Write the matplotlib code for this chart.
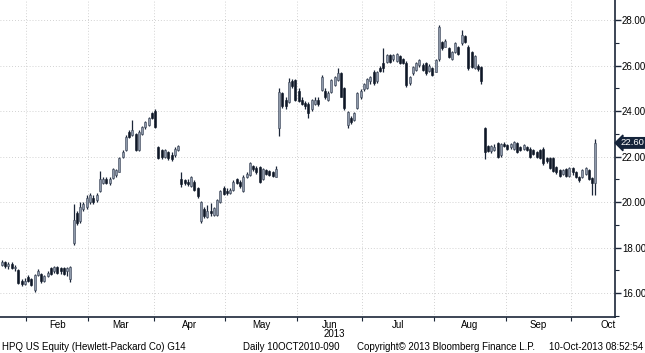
import matplotlib
matplotlib.use('Agg')
import numpy as np
import pandas as pd
from matplotlib import pyplot as plt
from matplotlib import transforms

plt.rcParams['font.family'] = ['Liberation Sans', 'DejaVu Sans']

# trading days shown on the chart (NYSE holidays removed)
holidays = ['2013-02-18', '2013-03-29', '2013-05-27', '2013-07-04', '2013-09-02']
dates = pd.bdate_range('2013-01-22', '2013-10-10')
dates = dates[~dates.isin(pd.to_datetime(holidays))]

opens = [17.25, 17.35, 17.20, 17.30, 17.10, 17.00, 16.55, 16.40, 16.70, 16.60,
         16.15, 16.80, 16.85, 16.55, 16.75, 17.10, 16.95, 17.15, 17.10, 17.10,
         16.95, 16.60, 18.20, 19.50, 19.15, 19.70, 19.80, 20.00, 20.20, 20.10,
         20.50, 20.85, 21.00, 20.85, 21.06, 21.20, 21.34, 22.00, 22.29, 23.10,
         22.95, 23.00, 22.30, 23.00, 23.30, 23.40, 23.90, 24.00, 22.40, 22.30,
         22.00, 22.20, 22.05, 22.05, 22.30, 21.00, 20.95, 20.90, 20.70, 20.90,
         20.60, 19.15, 19.70, 19.35, 19.60, 19.45, 19.45, 20.00, 20.60, 20.50,
         20.40, 20.55, 21.00, 20.90, 20.50, 21.10, 21.20, 21.60, 21.50, 21.56,
         21.00, 21.40, 21.35, 21.30, 21.12, 23.25, 24.78, 24.50, 24.41, 25.30,
         25.37, 24.90, 24.50, 24.35, 24.30, 24.10, 24.30, 24.50, 24.93, 24.90,
         24.50, 24.85, 25.15, 25.37, 25.66, 25.00, 23.39, 23.70, 23.60, 24.12,
         24.60, 24.95, 25.00, 25.30, 25.73, 25.30, 25.90, 26.10, 26.17, 26.46,
         26.30, 26.20, 26.40, 26.30, 26.10, 25.22, 25.66, 25.80, 26.02, 26.02,
         26.10, 25.75, 25.88, 25.73, 26.30, 27.05, 26.83, 26.76, 26.30, 26.60,
         26.80, 26.98, 27.30, 26.83, 26.60, 25.90, 26.00, 25.95, 23.24, 22.45,
         22.25, 22.30, 22.60, 22.05, 22.55, 22.50, 22.40, 22.35, 22.60, 22.40,
         22.35, 22.40, 22.35, 22.30, 22.20, 22.30, 22.35, 21.95, 21.95, 21.95,
         21.55, 21.40, 21.25, 21.45, 21.15, 21.50, 21.30, 21.10, 21.10, 21.25,
         21.40, 21.05, 20.85]
highs = [17.45, 17.40, 17.38, 17.35, 17.25, 17.05, 16.60, 16.65, 16.80, 16.65,
         16.85, 17.05, 16.90, 16.80, 16.95, 17.15, 17.20, 17.20, 17.15, 17.15,
         17.15, 17.20, 19.90, 19.60, 20.00, 20.00, 20.30, 20.40, 20.30, 20.40,
         21.35, 21.10, 21.10, 21.10, 21.50, 21.45, 22.00, 22.30, 22.95, 23.15,
         23.60, 23.05, 23.15, 23.35, 23.55, 23.75, 23.95, 24.10, 22.45, 22.35,
         22.35, 22.25, 22.20, 22.40, 22.50, 21.34, 21.00, 21.00, 21.15, 20.95,
         20.65, 20.05, 19.80, 19.85, 19.95, 19.80, 20.15, 20.55, 20.70, 20.60,
         20.60, 20.95, 21.05, 20.95, 21.20, 21.30, 21.75, 21.65, 21.60, 21.60,
         21.50, 21.45, 21.40, 21.35, 21.60, 25.00, 24.85, 24.60, 25.44, 25.40,
         25.40, 25.00, 24.60, 24.45, 24.40, 24.55, 24.60, 24.60, 25.60, 25.00,
         24.90, 25.40, 25.55, 25.88, 25.70, 25.05, 24.00, 23.80, 23.95, 24.85,
         24.95, 25.25, 25.45, 25.55, 25.80, 25.75, 26.00, 26.77, 26.50, 26.50,
         26.50, 26.55, 26.45, 26.35, 26.20, 25.55, 26.00, 26.15, 26.30, 26.10,
         26.15, 26.05, 25.95, 26.30, 27.80, 27.10, 27.15, 26.80, 26.65, 27.05,
         26.85, 27.56, 27.35, 26.90, 26.65, 26.45, 26.05, 26.00, 23.30, 22.50,
         22.50, 22.55, 22.65, 22.60, 22.65, 22.55, 22.60, 22.70, 22.65, 22.45,
         22.55, 22.45, 22.40, 22.35, 22.25, 22.35, 22.40, 22.00, 22.00, 22.00,
         21.60, 21.45, 21.45, 21.50, 21.55, 21.55, 21.35, 21.15, 21.45, 21.55,
         21.45, 21.10, 22.76]
lows = [17.20, 17.10, 17.05, 17.05, 16.95, 16.40, 16.30, 16.35, 16.50, 16.30,
        16.07, 16.75, 16.45, 16.50, 16.70, 16.80, 16.90, 16.85, 16.85, 16.80,
        16.75, 16.50, 18.10, 19.00, 19.10, 19.60, 19.70, 19.90, 19.90, 20.00,
        20.45, 20.80, 20.80, 20.75, 21.00, 21.10, 21.30, 21.95, 22.25, 22.80,
        22.90, 22.25, 22.25, 22.95, 23.20, 23.35, 23.65, 23.25, 21.90, 21.90,
        21.95, 21.85, 21.80, 22.00, 22.25, 20.68, 20.75, 20.70, 20.65, 20.50,
        20.20, 19.10, 19.30, 19.30, 19.40, 19.40, 19.40, 19.95, 20.30, 20.30,
        20.35, 20.50, 20.80, 20.60, 20.45, 21.05, 21.15, 21.35, 21.25, 20.85,
        20.95, 21.20, 21.15, 21.10, 21.10, 22.90, 24.15, 24.10, 24.35, 25.00,
        24.45, 24.40, 24.25, 24.10, 23.70, 24.00, 24.25, 24.20, 24.90, 24.55,
        24.45, 24.80, 25.10, 25.30, 24.60, 24.05, 23.25, 23.45, 23.55, 24.10,
        24.55, 24.90, 24.95, 25.20, 25.15, 25.25, 25.70, 25.70, 26.10, 26.10,
        26.20, 26.15, 26.05, 26.05, 25.07, 25.15, 25.60, 25.75, 25.95, 25.75,
        25.60, 25.70, 25.55, 25.70, 26.20, 26.70, 26.80, 26.35, 26.25, 26.55,
        26.45, 26.90, 27.00, 25.80, 25.90, 25.85, 25.75, 25.20, 21.90, 22.20,
        22.15, 22.25, 21.95, 22.00, 22.40, 22.30, 22.35, 22.30, 22.15, 22.25,
        22.30, 22.25, 21.95, 22.05, 21.95, 21.90, 21.65, 21.70, 21.45, 21.30,
        21.25, 21.10, 21.20, 21.10, 21.10, 21.20, 21.05, 20.90, 21.05, 21.20,
        20.95, 20.30, 20.30]
closes = [17.38, 17.20, 17.30, 17.10, 17.15, 16.45, 16.40, 16.55, 16.55, 16.35,
          16.80, 16.95, 16.55, 16.75, 16.90, 16.85, 17.15, 16.90, 16.95, 16.85,
          17.10, 17.15, 19.20, 19.10, 19.80, 19.90, 20.20, 20.30, 20.00, 20.30,
          21.00, 21.00, 20.85, 21.00, 21.46, 21.40, 21.94, 22.22, 22.88, 22.88,
          23.17, 22.30, 23.10, 23.30, 23.50, 23.70, 23.70, 23.30, 21.95, 22.00,
          22.30, 21.95, 21.90, 22.35, 22.45, 20.78, 20.85, 20.80, 21.10, 20.55,
          20.25, 20.00, 19.40, 19.60, 19.50, 19.75, 20.10, 20.50, 20.35, 20.40,
          20.55, 20.90, 20.85, 20.70, 21.12, 21.25, 21.70, 21.45, 21.30, 20.90,
          21.45, 21.25, 21.20, 21.15, 21.45, 24.85, 24.20, 24.20, 25.29, 25.10,
          24.49, 24.45, 24.30, 24.20, 23.90, 24.50, 24.50, 24.30, 25.51, 24.60,
          24.80, 25.37, 25.51, 25.66, 24.63, 24.12, 23.97, 23.50, 23.90, 24.78,
          24.90, 25.20, 25.40, 25.50, 25.22, 25.70, 25.75, 25.88, 26.46, 26.17,
          26.45, 26.50, 26.10, 26.10, 25.15, 25.51, 25.95, 26.10, 26.24, 25.80,
          25.66, 26.00, 25.60, 26.24, 27.70, 26.76, 27.10, 26.39, 26.60, 27.00,
          26.50, 27.34, 27.05, 25.88, 25.95, 26.40, 25.85, 25.30, 22.22, 22.25,
          22.45, 22.44, 22.00, 22.55, 22.45, 22.35, 22.55, 22.65, 22.20, 22.30,
          22.50, 22.30, 22.00, 22.10, 22.00, 21.95, 21.70, 21.80, 21.50, 21.35,
          21.30, 21.15, 21.40, 21.15, 21.50, 21.30, 21.10, 20.98, 21.40, 21.50,
          21.00, 20.83, 22.60]

y_major = [16, 18, 20, 22, 24, 26, 28]
year_label = '2013'
footer_left = 'HPQ US Equity (Hewlett-Packard Co) G14'
footer_mid = 'Daily 10OCT2010-090'
footer_copy = 'Copyright\u00a9 2013 Bloomberg Finance L.P.'
footer_time = '10-Oct-2013 08:52:54'

o = np.array(opens)
h = np.array(highs)
l = np.array(lows)
c = np.array(closes)
idx = np.arange(len(c))
up = c >= o

# month boundaries / label centres in trading-day index
months = dates.to_period('M')
starts = [i for i in range(1, len(months)) if months[i] != months[i - 1]]
bounds = [s - 0.5 for s in starts]
centres, names = [], []
for k, b in enumerate(bounds):
    nxt = bounds[k + 1] if k + 1 < len(bounds) else b + 23
    centres.append((b + nxt) / 2)
    names.append(dates[starts[k]].strftime('%b'))

fig = plt.figure(figsize=(6.45, 3.53), dpi=100)
ax = fig.add_axes([0, 0.102, 615 / 645, 0.898])

navy = '#1b2638'
ax.vlines(idx, l, h, color=navy, linewidth=0.9, zorder=3)
body_lo = np.minimum(o, c)
body_h = np.maximum(np.abs(c - o), 0.04)
ax.bar(idx[up], body_h[up], bottom=body_lo[up], width=0.62,
       color='#8e99aa', edgecolor='#3a4456', linewidth=0.4, zorder=4)
ax.bar(idx[~up], body_h[~up], bottom=body_lo[~up], width=0.62,
       color='#0e1726', edgecolor='#0e1726', linewidth=0.4, zorder=4)

ax.set_xlim(-0.6, 188.0)
ax.set_ylim(14.95, 28.88)

for s in ['left', 'top']:
    ax.spines[s].set_visible(False)
for s in ['right', 'bottom']:
    ax.spines[s].set_color(navy)
    ax.spines[s].set_linewidth(1.2)

ax.yaxis.tick_right()
ax.set_yticks(y_major)
ax.set_yticklabels(['%.2f' % v for v in y_major])
ax.set_yticks(np.arange(15, 29, 2), minor=True)
ax.tick_params(axis='y', which='major', direction='out', length=4, width=1,
               color=navy, labelsize=7, pad=1)
ax.tick_params(axis='y', which='minor', direction='out', length=3, width=0.8,
               color=navy)

ax.set_xticks(bounds)
ax.set_xticklabels([])
ax.set_xticks(centres, minor=True)
ax.set_xticklabels(names, minor=True)
ax.tick_params(axis='x', which='major', direction='out', length=3, width=0.8,
               color=navy)
ax.tick_params(axis='x', which='minor', length=0, labelsize=7, pad=2)

grid_kw = dict(color='#c4c4c4', linewidth=0.6, linestyle=(0, (1, 2.5)), zorder=1)
for b in bounds:
    ax.axvline(b, **grid_kw)
for v in y_major:
    ax.axhline(v, **grid_kw)

# last price tag
trans = transforms.blended_transform_factory(ax.transAxes, ax.transData)
ax.text(1.009, closes[-1], '%.2f' % closes[-1], transform=trans, color='white',
        fontsize=6.8, va='center', ha='left', clip_on=False, zorder=6,
        bbox=dict(boxstyle='larrow,pad=0.08', facecolor='#14233a',
                  edgecolor='#14233a'))

xt = transforms.blended_transform_factory(ax.transData, ax.transAxes)
ax.text(centres[4] + 1.5, -0.054, year_label, transform=xt,
        fontsize=7, ha='center', va='center')

fy = 1 - 347 / 353
fig.text(2 / 645, fy, footer_left, fontsize=7, ha='left', va='center')
fig.text(243 / 645, fy, footer_mid, fontsize=7, ha='left', va='center')
fig.text(357 / 645, fy, footer_copy, fontsize=7, ha='left', va='center')
fig.text(643 / 645, fy, footer_time, fontsize=7, ha='right', va='center')

fig.savefig('out.png', dpi=100)
